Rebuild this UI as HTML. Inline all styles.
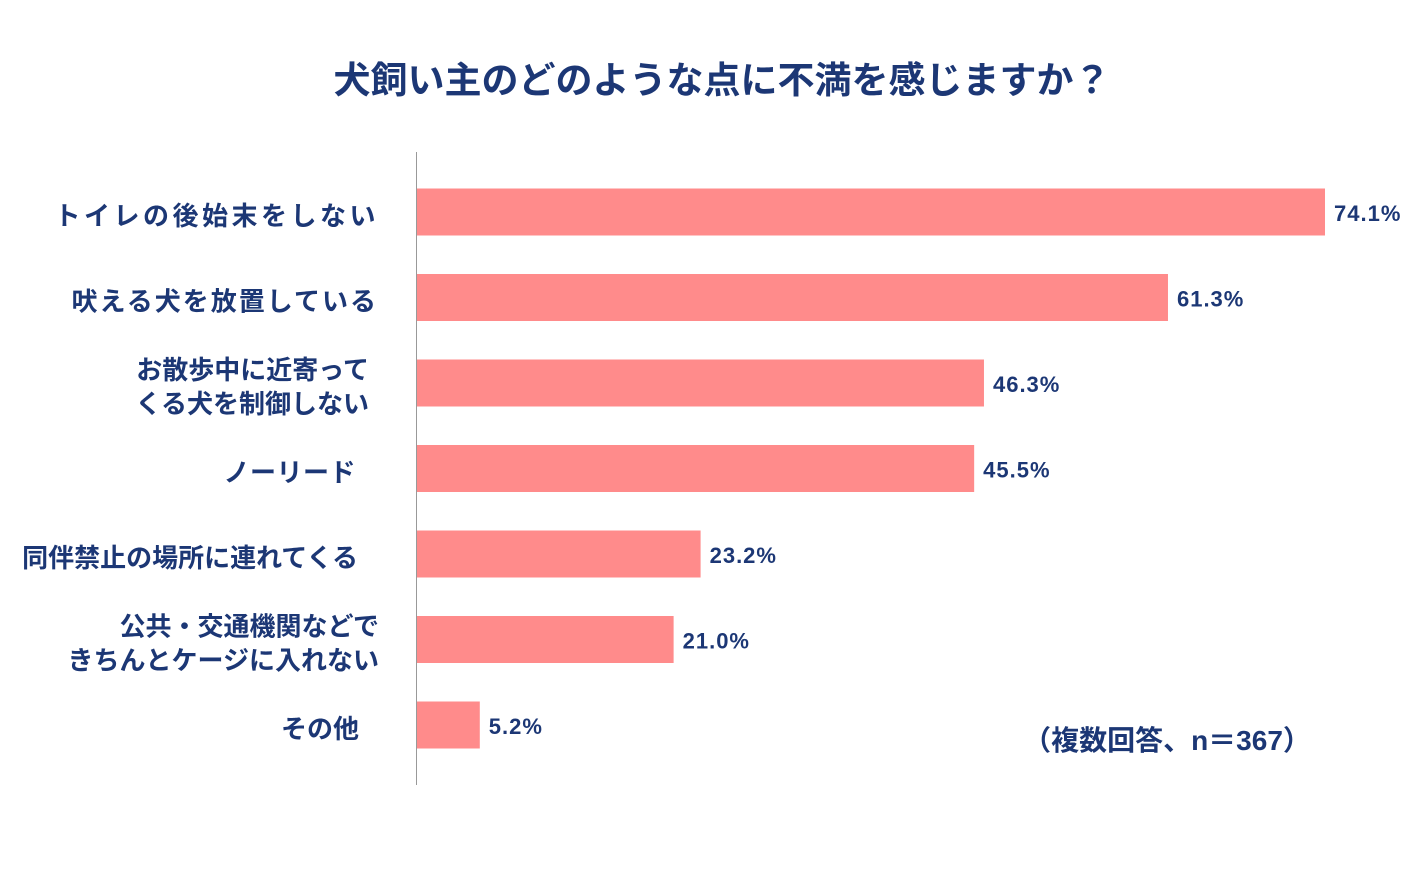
<!DOCTYPE html>
<html><head><meta charset="utf-8"><style>
body{margin:0;width:1422px;height:865px;background:#fff;overflow:hidden}
svg text{font-family:"Liberation Sans","Noto Sans CJK JP",sans-serif;font-weight:bold;fill:#1c3775}
</style></head><body>
<svg id="chart" width="1422" height="865" xmlns="http://www.w3.org/2000/svg">
<text x="722" y="93" text-anchor="middle" font-size="37">犬飼い主のどのような点に不満を感じますか？</text>
<line x1="416.5" y1="152" x2="416.5" y2="785" stroke="#999" stroke-width="1"/>
<text x="1167" y="750" text-anchor="middle" font-size="28">（複数回答、n＝367）</text>
</svg>
<script>
const categories = [["トイレの後始末をしない"],["吠える犬を放置している"],["お散歩中に近寄って","くる犬を制御しない"],["ノーリード"],["同伴禁止の場所に連れてくる"],["公共・交通機関などで","きちんとケージに入れない"],["その他"]];
const values = [74.1,61.3,46.3,45.5,23.2,21.0,5.2];
const valueLabels = ["74.1%","61.3%","46.3%","45.5%","23.2%","21.0%","5.2%"];
const labelRight = [379,378,369,356,358,379,359];
const labelSpacing = [3.5,2,0,0.5,0,0,0];
const svg = document.getElementById('chart');
const NS = 'http://www.w3.org/2000/svg';
const x0 = 416, pxPer = 909/74.1;
const xScale = v => x0 + v*pxPer;
const yCenter = i => 212 + i*85.5;
const barH = 47;
values.forEach((v,i)=>{
  const r = document.createElementNS(NS,'rect');
  
  
  r.setAttribute('x',x0+1); r.setAttribute('y',yCenter(i)-barH/2);
  r.setAttribute('width',xScale(v)-x0-1); r.setAttribute('height',barH);
  r.setAttribute('fill','#ff8b8b');
  svg.appendChild(r);
  const t = document.createElementNS(NS,'text');
  
  
  t.setAttribute('x',xScale(v)+9); t.setAttribute('y',yCenter(i)+9);
  t.setAttribute('font-size','22');
  t.setAttribute('letter-spacing','1');
  t.textContent = valueLabels[i];
  svg.appendChild(t);
  const lines = categories[i];
  lines.forEach((ln,j)=>{
    const c = document.createElementNS(NS,'text');
    
    
    c.setAttribute('x',labelRight[i]); c.setAttribute('text-anchor','end');
    c.setAttribute('letter-spacing',labelSpacing[i]);
    const off = lines.length===1 ? 13 : (j===0 ? -4 : 30);
    c.setAttribute('y',yCenter(i)+off);
    c.setAttribute('font-size','26');
    c.textContent = ln;
    svg.appendChild(c);
  });
});
</script>
</body></html>
